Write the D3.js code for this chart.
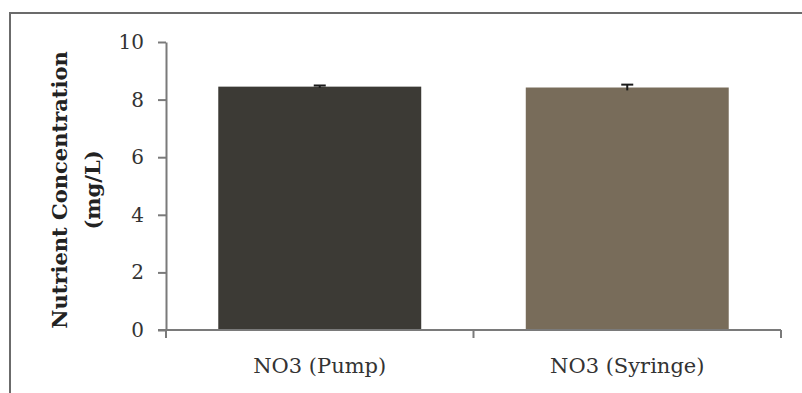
<!DOCTYPE html>
<html>
<head>
<meta charset="utf-8">
<script src="https://cdn.jsdelivr.net/npm/d3@7"></script>
<style>
  body { margin: 0; background: #fff; }
  svg { display: block; }
</style>
</head>
<body>
<div id="chart"></div>
<script>
// Chart data
var categories = ["NO3 (Pump)", "NO3 (Syringe)"];
var values = [8.45, 8.42];
var errors = [0.04, 0.1];
var yTicks = [0, 2, 4, 6, 8, 10];
var barColors = ["#3c3a35", "#786c5a"];

function init() {
    var w = 802;
    var h = 393;
    var margin = { left: 166, right: 21, top: 42, bottom: 63 };

    var svg = d3.select("#chart")
                .append("svg")
                .attr("width", w)
                .attr("height", h);

    // outer frame (runs off the right and bottom edges)
    svg.append("path")
        .attr("d", "M10,400 L10,13 L810,13")
        .attr("fill", "none")
        .attr("stroke", "#6b6b6b")
        .attr("stroke-width", 2);

    var xScale = d3.scaleBand()
                    .domain(categories)
                    .range([margin.left, w - margin.right])
                    .paddingInner(0.34)
                    .paddingOuter(0.17);

    var yScale = d3.scaleLinear()
                    .domain([0, 10])
                    .range([h - margin.bottom, margin.top]);

    // bars
    svg.selectAll("rect.bar")
        .data(values)
        .enter()
        .append("rect")
        .attr("class", "bar")
        .attr("x", function(d, i) { return xScale(categories[i]); })
        .attr("y", function(d) { return yScale(d); })
        .attr("width", xScale.bandwidth())
        .attr("height", function(d) { return yScale(0) - yScale(d); })
        .attr("fill", function(d, i) { return barColors[i]; });

    // error bars
    var eb = svg.selectAll("g.err")
        .data(values)
        .enter()
        .append("g")
        .attr("class", "err")
        .attr("stroke", "#1a1a1a")
        .attr("stroke-width", 2);
    eb.append("line")
        .attr("x1", function(d, i) { return xScale(categories[i]) + xScale.bandwidth() / 2; })
        .attr("x2", function(d, i) { return xScale(categories[i]) + xScale.bandwidth() / 2; })
        .attr("y1", function(d, i) { return yScale(d + errors[i]); })
        .attr("y2", function(d, i) { return yScale(d - errors[i]); });
    eb.append("line")
        .attr("x1", function(d, i) { return xScale(categories[i]) + xScale.bandwidth() / 2 - 6; })
        .attr("x2", function(d, i) { return xScale(categories[i]) + xScale.bandwidth() / 2 + 6; })
        .attr("y1", function(d, i) { return yScale(d + errors[i]); })
        .attr("y2", function(d, i) { return yScale(d + errors[i]); });

    // y axis
    var yAxis = d3.axisLeft(yScale)
                  .tickValues(yTicks)
                  .tickSize(8)
                  .tickPadding(14)
                  .tickSizeOuter(0);
    var gy = svg.append("g")
        .attr("transform", "translate(" + margin.left + ",0)")
        .call(yAxis);
    gy.select(".domain").attr("stroke", "#7a7a7a").attr("stroke-width", 2);
    gy.selectAll(".tick line").attr("stroke", "#7a7a7a").attr("stroke-width", 2);
    gy.selectAll(".tick text")
        .attr("fill", "#333")
        .style("font-family", "'DejaVu Serif', serif")
        .style("font-size", "20px");

    // x axis
    var xAxis = d3.axisBottom(xScale).tickSize(0).tickPadding(28);
    var gx = svg.append("g")
        .attr("transform", "translate(0," + yScale(0) + ")")
        .call(xAxis);
    gx.select(".domain")
        .attr("d", "M" + (margin.left - 8) + ",0H" + (w - margin.right))
        .attr("stroke", "#7a7a7a").attr("stroke-width", 2);
    gx.selectAll(".tick text")
        .attr("fill", "#333")
        .style("font-family", "'DejaVu Serif', serif")
        .style("font-size", "21px");

    // category boundary ticks on the x axis
    var bounds = [margin.left, (margin.left + w - margin.right) / 2, w - margin.right];
    svg.selectAll("line.xb")
        .data(bounds)
        .enter()
        .append("line")
        .attr("class", "xb")
        .attr("x1", function(d) { return d; })
        .attr("x2", function(d) { return d; })
        .attr("y1", yScale(0))
        .attr("y2", yScale(0) + 8)
        .attr("stroke", "#7a7a7a")
        .attr("stroke-width", 2);

    // y axis title, two lines
    var title = svg.append("text")
        .attr("transform", "translate(60," + ((yScale(0) + yScale(10)) / 2 + 4) + ") rotate(-90)")
        .attr("text-anchor", "middle")
        .attr("fill", "#222")
        .style("font-family", "'DejaVu Serif', serif")
        .style("font-weight", "bold")
        .style("font-size", "21px");
    title.append("tspan").attr("x", 0).attr("dy", "0.35em").text("Nutrient Concentration");
    title.append("tspan").attr("x", 0).attr("dy", "1.55em").text("(mg/L)");
}

window.onload = init;
</script>
</body>
</html>
